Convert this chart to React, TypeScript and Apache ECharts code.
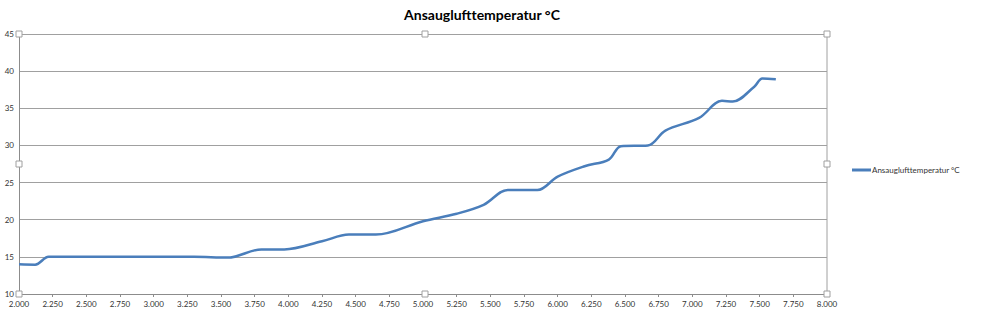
import React, { useEffect, useRef } from "react";
import * as echarts from "echarts";

const titleText = "Ansauglufttemperatur °C";
const seriesName = "Ansauglufttemperatur °C";
const rpm = [2.0, 2.12, 2.22, 2.4, 2.75, 3.0, 3.3, 3.55, 3.8, 3.97, 4.25, 4.45, 4.65, 5.0, 5.25, 5.45, 5.63, 5.85, 6.0, 6.2, 6.38, 6.47, 6.67, 6.8, 7.05, 7.22, 7.3, 7.46, 7.52, 7.62];
const temps = [14, 13.95, 15, 15, 15, 15, 15, 14.9, 16.0, 16.0, 17.1, 18.0, 18.0, 19.8, 20.8, 22.0, 24.0, 24.0, 25.8, 27.2, 28.1, 29.9, 30.0, 32.0, 33.7, 36.0, 35.9, 37.9, 39.0, 38.9];
const xMin = 2, xMax = 8, xStep = 0.25;
const yMin = 10, yMax = 45, yStep = 5;

export default function App() {
  const ref = useRef<HTMLDivElement>(null);
  useEffect(() => {
    document.body.style.margin = "0";
    const chart = echarts.init(ref.current!, undefined, { renderer: "svg" });
    const handle = (x: number, y: number) => ({
      type: "rect", shape: { x: x - 3, y: y - 3, width: 6, height: 6 },
      style: { fill: "#fff", stroke: "#a0a0a0", lineWidth: 1 }, z: 100,
    });
    chart.setOption({
      animation: false,
      backgroundColor: "#ffffff",
      title: {
        text: titleText, left: 477, top: 2, textAlign: "center",
        textStyle: { fontFamily: "Lato", fontWeight: "bold", fontSize: 14, color: "#000" },
      },
      legend: {
        left: 852, top: 166, padding: 0, itemWidth: 19, itemHeight: 3, itemGap: 0,
        icon: "rect",
        textStyle: { fontFamily: "Lato", fontSize: 8, color: "#333", padding: [0, 0, 0, -4] },
        data: [seriesName],
      },
      grid: { left: 19, right: 161, top: 34, bottom: 19, containLabel: false, show: false },
      xAxis: {
        type: "value", min: xMin, max: xMax, interval: xStep,
        axisLine: { lineStyle: { color: "#8c8c8c" } },
        axisTick: { show: true, length: 3, lineStyle: { color: "#8c8c8c" } },
        axisLabel: { fontFamily: "Lato", fontSize: 8, color: "#333", margin: 6, formatter: (v: number) => v.toFixed(3) },
        splitLine: { show: false },
      },
      yAxis: {
        type: "value", min: yMin, max: yMax, interval: yStep,
        axisLine: { show: true, lineStyle: { color: "#8c8c8c" } },
        axisTick: { show: false },
        axisLabel: { fontFamily: "Lato", fontSize: 8, color: "#333", margin: 5 },
        splitLine: { lineStyle: { color: "#a0a0a0", width: 1 } },
      },
      graphic: [
        { type: "line", shape: { x1: 827, y1: 34, x2: 827, y2: 294 }, style: { stroke: "#a0a0a0", lineWidth: 1 }, z: 50 },
        handle(19, 34), handle(425, 34), handle(827, 34),
        handle(19, 164), handle(827, 164),
        handle(19, 294), handle(425, 294), handle(827, 294),
      ],
      series: [{
        name: seriesName, type: "line", smooth: 0.35, showSymbol: false,
        data: rpm.map((x, i) => [x, temps[i]]),
        lineStyle: { color: "#4a7ebb", width: 2.5 }, itemStyle: { color: "#4a7ebb" },
      }],
    });
    return () => chart.dispose();
  }, []);
  return <div ref={ref} style={{ width: 988, height: 313 }} />;
}
